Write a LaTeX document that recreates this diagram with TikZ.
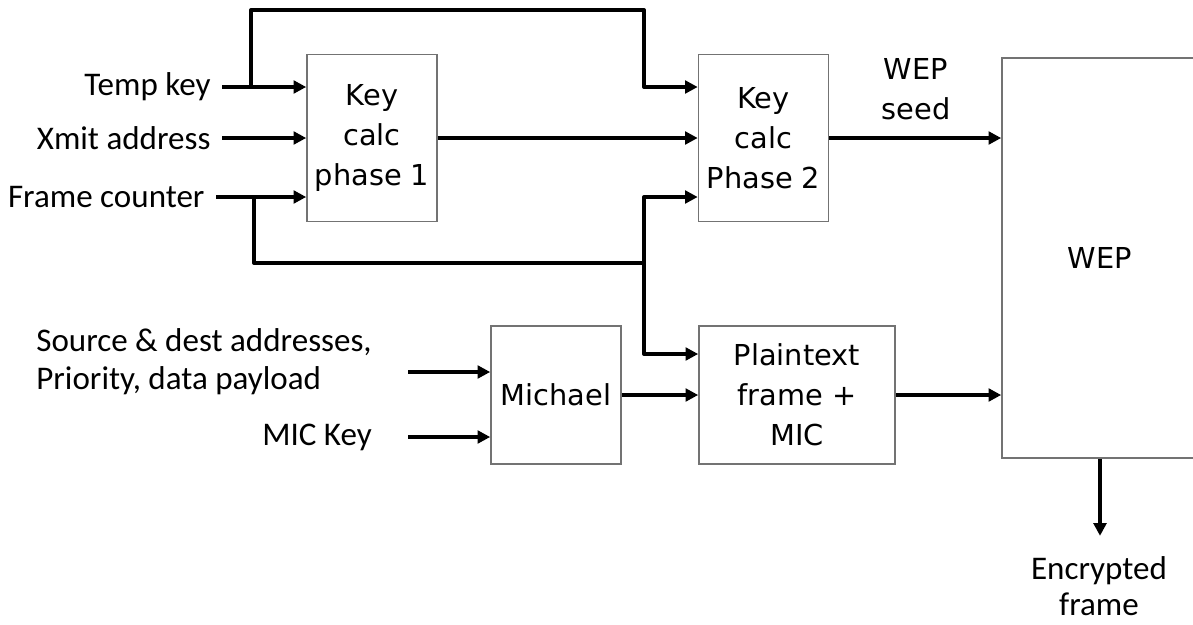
\documentclass[tikz,border=0pt]{standalone}
\usepackage{fontspec}
\setmainfont{Carlito}
\newfontfamily\blockfont{DejaVu Sans}
\usepackage{tikz}
\usetikzlibrary{arrows.meta, positioning, calc}

\definecolor{BoxGray}{rgb}{0.45,0.45,0.45}

\tikzset{
  block/.style={draw=BoxGray, line width=1.1pt, align=center, inner sep=0pt,
    font=\blockfont\fontsize{20.5}{28.5}\selectfont},
  lbl/.style={align=left, inner xsep=8pt, inner ysep=0pt,
    font=\fontsize{23.5}{27}\selectfont},
  wire/.style={line width=2.4pt, line join=round},
  arr/.style={wire, -{Triangle[length=9pt, width=9pt]}}
}

\begin{document}
\begin{tikzpicture}[x=0.025cm, y=-0.025cm]
    \useasboundingbox (0,0) rectangle (1193,625);
    \clip (0,0) rectangle (1193,625);
    % blocks
    \node[block, minimum width=3.25cm, minimum height=4.175cm] (kc1) at (372,138) {Key\\calc\\phase 1};
    \node[block, minimum width=3.25cm, minimum height=4.175cm] (kc2) at (763.5,138) {Key\\calc\\Phase 2};
    \node[block, minimum width=3.25cm, minimum height=3.45cm] (mich) at (556,395) {Michael};
    \node[block, minimum width=4.9cm, minimum height=3.45cm] (plain) at (797,395) {Plaintext\\frame +\\MIC};
    \node[block, minimum width=4.9cm, minimum height=10cm] (wep) at (1100,258) {WEP};
    % inputs
    \node[lbl, anchor=east] (tk) at (222,87) {Temp key};
    \node[lbl, anchor=east] (xa) at (222,138) {Xmit address};
    \node[lbl, anchor=east] (fc) at (216,197) {Frame counter};
    \node[lbl, anchor=east, inner xsep=0pt] (src) at (372,362) {Source \& dest addresses,\\Priority, data payload};
    \node[lbl, anchor=east, inner xsep=0pt] (mk) at (372,437) {MIC Key};
    \node[block, draw=none] (seed) at (916,89) {WEP\\seed};
    \node[lbl, align=center, font=\fontsize{23.5}{26}\selectfont] (enc) at (1099,586) {Encrypted\\frame};
    \coordinate (tj) at (251,87);
    \coordinate (tr) at (644,10);
    \coordinate (bj) at (254,197);
    \coordinate (bm) at (644,263);
    \coordinate (in1) at (408,372);
    \coordinate (in2) at (408,437);
    % connectors
    \draw[arr] (tk.east) -- (kc1.west |- tk.east);
    \draw[arr] (xa.east) -- (kc1.west |- xa.east);
    \draw[arr] (fc.east) -- (kc1.west |- fc.east);
    \draw[arr] (tj) |- (tr) |- (kc2.west |- tk.east);
    \draw[wire] (bj) |- (bm);
    \draw[arr] (bm) |- (kc2.west |- fc.east);
    \draw[arr] (bm) |- ($(plain.west)+(0,-41)$);
    \draw[arr] (kc1.east) -- (kc2.west);
    \draw[arr] (kc2.east) -- (kc2.east -| wep.west);
    \draw[arr] (in1) -- (mich.west |- in1);
    \draw[arr] (in2) -- (mich.west |- in2);
    \draw[arr] (mich.east) -- (plain.west);
    \draw[arr] (plain.east) -- (plain.east -| wep.west);
    \draw[arr] (wep.south) -- ++(0,77);
\end{tikzpicture}
\end{document}
